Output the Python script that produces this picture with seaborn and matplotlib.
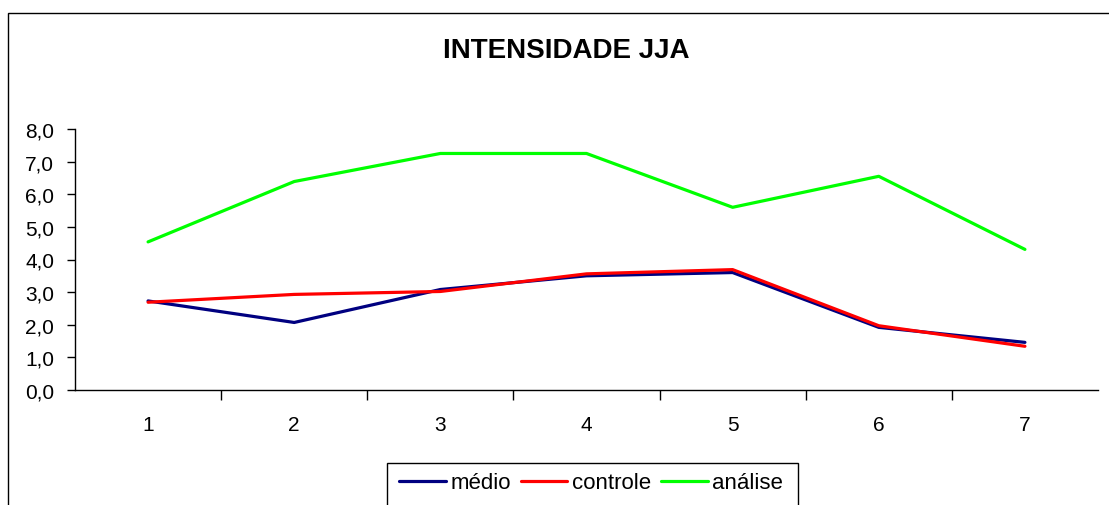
import pandas as pd
import matplotlib.pyplot as plt
from matplotlib.patches import Rectangle
import seaborn as sns

sns.set_style("white")
plt.rcParams["font.family"] = ["Liberation Sans", "DejaVu Sans"]
plt.rcParams["text.color"] = "black"
plt.rcParams["xtick.color"] = "black"
plt.rcParams["ytick.color"] = "black"

# values
categorias = [1, 2, 3, 4, 5, 6, 7]
medio = [2.73, 2.07, 3.08, 3.50, 3.60, 1.92, 1.46]
controle = [2.69, 2.93, 3.02, 3.56, 3.69, 1.97, 1.34]
analise = [4.54, 6.39, 7.25, 7.25, 5.60, 6.55, 4.31]
y_ticks = [0, 1, 2, 3, 4, 5, 6, 7, 8]

df = pd.DataFrame({
    "x": categorias * 3,
    "valor": medio + controle + analise,
    "serie": ["médio"] * 7 + ["controle"] * 7 + ["análise"] * 7,
})
cores = {"médio": "#000080", "controle": "#FF0000", "análise": "#00FF00"}

W, H = 1109, 506
fig = plt.figure(figsize=(W / 100, H / 100), dpi=100)
ax = fig.add_axes([75 / W, 1 - 391 / H, (1098 - 75) / W, (391 - 130) / H])

sns.lineplot(data=df, x="x", y="valor", hue="serie", palette=cores,
             linewidth=2.3, ax=ax, legend=False)

ax.set_xlim(0.5, 7.5)
ax.set_ylim(0, 8)
ax.set_yticks(y_ticks)
ax.set_yticklabels([f"{v:.1f}".replace(".", ",") for v in y_ticks], fontsize=15)
# category boundaries get tick marks, labels sit at category centres
ax.set_xticks([c + 0.5 for c in categorias[:-1]])
ax.set_xticklabels([])
ax.set_xticks(categorias, minor=True)
ax.set_xticklabels([str(c) for c in categorias], minor=True, fontsize=15)
ax.tick_params(axis="x", which="major", bottom=True, direction="out",
               length=7, width=1, color="black")
ax.tick_params(axis="x", which="minor", bottom=True, length=0, pad=18)
ax.tick_params(axis="y", left=True, direction="out", length=6, width=1,
               color="black", pad=9)
ax.set_xlabel("")
ax.set_ylabel("")
for s in ["top", "right"]:
    ax.spines[s].set_visible(False)
for s in ["left", "bottom"]:
    ax.spines[s].set_color("black")
    ax.spines[s].set_linewidth(1)
ax.grid(False)

fig.text(566 / W, 1 - 51 / H, "INTENSIDADE JJA", ha="center", va="center",
         fontsize=20, fontweight="bold")

# outer chart border (cut off on right and bottom)
fig.patches.append(Rectangle((8 / W, -0.05), 1.1, 1 - 14 / H + 0.05,
                             transform=fig.transFigure, fill=False,
                             edgecolor="black", linewidth=1))
# legend frame (bottom cut off)
fig.patches.append(Rectangle((387 / W, -0.05), (798 - 387) / W, 1 - 464 / H + 0.05,
                             transform=fig.transFigure, fill=False,
                             edgecolor="black", linewidth=1))

handles = [plt.Line2D([], [], color=cores[k], linewidth=2.3) for k in cores]
fig.legend(handles, list(cores), loc="center", bbox_to_anchor=(591 / W, 1 - 484 / H),
           ncol=3, frameon=False, fontsize=16, handlelength=2.1,
           handletextpad=0.2, columnspacing=0.45)

fig.savefig("out.png", dpi=100)
